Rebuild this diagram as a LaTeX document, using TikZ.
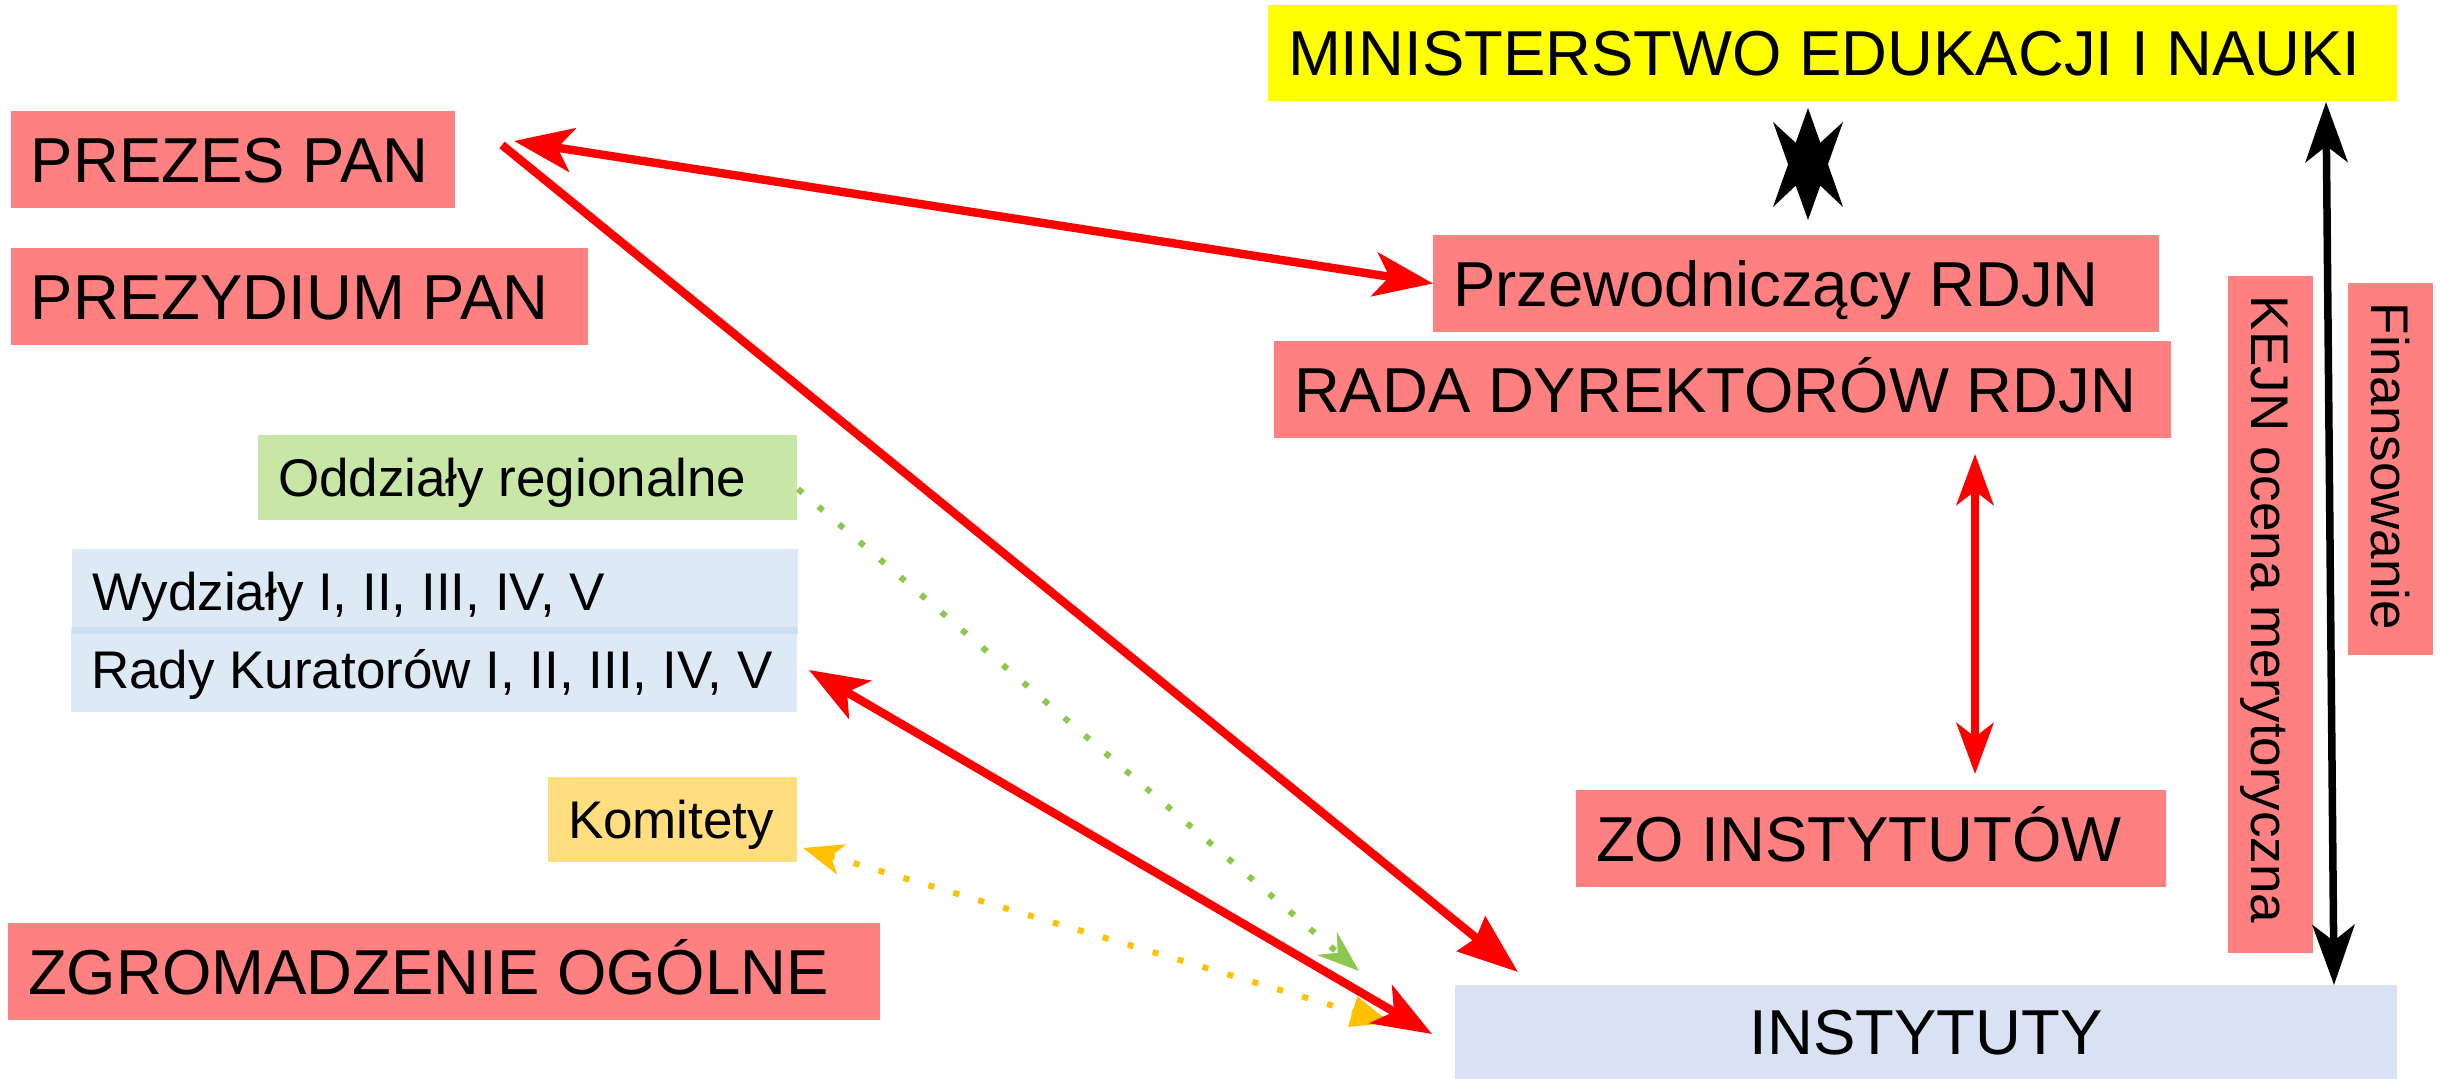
\documentclass[tikz,border=0pt]{standalone}
\usepackage{fontspec}
\setmainfont{Liberation Sans}
\usetikzlibrary{arrows.meta}
\definecolor{boxred}{HTML}{FF8080}
\definecolor{minyellow}{HTML}{FFFF00}
\definecolor{boxgreen}{HTML}{C8E6A5}
\definecolor{boxblue}{HTML}{BDD7EE}
\definecolor{boxorange}{HTML}{FFDE80}
\definecolor{boxinst}{HTML}{D9E2F3}
\definecolor{dotgreen}{HTML}{8CC84B}
\definecolor{dotyellow}{HTML}{FFC000}
\newcommand{\bt}[2]{\makebox[#1][l]{#2}}
\tikzset{
  base/.style={anchor=north west, inner xsep=10pt, inner ysep=0pt, outer sep=0pt, draw=none},
  big/.style={base, font=\fontsize{31.75pt}{38pt}\selectfont, text height=22.7pt, text depth=0pt, minimum height=48.5pt},
  small/.style={base, font=\fontsize{26.5pt}{32pt}\selectfont, text height=19pt, text depth=0pt, minimum height=42.5pt},
  redthick/.style={draw=red, line width=4.2pt},
  redthin/.style={draw=red, line width=3.75pt},
  blackline/.style={draw=black, line width=3.75pt},
  greendot/.style={draw=dotgreen, line width=3pt, dash pattern=on 3pt off 10.5pt},
  yellowdot/.style={draw=dotyellow, line width=3pt, dash pattern=on 3pt off 10pt},
  bighead/.tip={Stealth[length=29.5pt,width=22pt,inset=7.5pt]},
  fullhead/.tip={Stealth[length=30pt,width=22pt,inset=3pt]},
  blackhead/.tip={Stealth[length=30pt,width=21pt,inset=8pt]},
  thinhead/.tip={Stealth[length=25.5pt,width=18.5pt,inset=7pt]},
  greenhead/.tip={Stealth[length=21pt,width=15pt,inset=7pt]},
  yhead/.tip={Stealth[length=20pt,width=15.5pt,inset=5.5pt]},
  ytri/.tip={Triangle[length=20pt,width=15pt]},
}
\begin{document}
\begin{tikzpicture}[x=0.5pt,y=-0.5pt]
\useasboundingbox (0,0) rectangle (2440,1079);
\fill[white] (0,0) rectangle (2440,1079);

% boxes
\node[big, fill=minyellow, minimum height=48pt] (min) at (1268,5) {\bt{544.5pt}{MINISTERSTWO EDUKACJI I NAUKI}};
\node[big, fill=boxred] (prezes) at (11,111) {\bt{202pt}{PREZES PAN}};
\node[big, fill=boxred] (prezyd) at (11,248) {\bt{268.5pt}{PREZYDIUM PAN}};
\node[big, fill=boxred] (przew) at (1433,235) {\bt{343pt}{Przewodniczący RDJN}};
\node[big, fill=boxred] (rada) at (1274,341) {\bt{428.5pt}{RADA DYREKTORÓW RDJN}};
\node[small, fill=boxgreen] (odd) at (258,435) {\bt{249.5pt}{Oddziały regionalne}};
\node[small, fill=boxblue, fill opacity=0.5, text opacity=1] (wydz) at (72,549) {\bt{343pt}{Wydziały I, II, III, IV, V}};
\node[small, fill=boxblue, fill opacity=0.5, text opacity=1] (rady) at (71,627) {\bt{343pt}{Rady Kuratorów I, II, III, IV, V}};
\node[small, fill=boxorange] (kom) at (548,777) {\bt{104.5pt}{Komitety}};
\node[big, fill=boxred] (zgrom) at (8,923) {\bt{416pt}{ZGROMADZENIE OGÓLNE}};
\node[big, fill=boxred] (zo) at (1576,790) {\bt{275pt}{ZO INSTYTUTÓW}};
\node[big, fill=boxinst, minimum height=47pt] (inst) at (1455,985) {\makebox[451pt][c]{INSTYTUTY}};
\node[small, fill=boxred, rotate=-90, anchor=center] (kejn) at (2270.5,614.5) {\bt{318.5pt}{KEJN ocena merytoryczna}};
\node[small, fill=boxred, rotate=-90, anchor=center] (fin) at (2390.5,469) {\bt{166pt}{Finansowanie}};

% connector end points
\coordinate (pL) at (514,141);
\coordinate (pa) at (502,145);
\coordinate (pb) at (1518,972);
\coordinate (ra) at (809,670);
\coordinate (rb) at (1432,1034);
\coordinate (ga) at (798,489);
\coordinate (gb) at (1359,971);
\coordinate (ya) at (803,848);
\coordinate (yb) at (1391,1023);
\coordinate (ba) at (2326,102);
\coordinate (bb) at (2334,985);
\coordinate (va) at (1975,454);
\coordinate (vb) at (1975,774);

% connectors
\draw[greendot, -{greenhead}] (ga) -- (gb);
\draw[yellowdot, {yhead}-{ytri}] (ya) -- (yb);
\draw[redthick, {bighead}-{bighead}] (pL) -- (przew.west);
\draw[redthick, -{fullhead}] (pa) -- (pb);
\draw[redthick, {bighead}-{bighead}] (ra) -- (rb);
\draw[redthin, {thinhead}-{thinhead}] (va) -- (vb);
\draw[blackline, {blackhead}-{blackhead}] (ba) -- (bb);

% collapsed double arrow between ministry and RDJN
\fill[black] (1808,108) -- (1843,207) -- (1808,174) -- (1773,207) -- cycle;
\fill[black] (1808,220) -- (1843,122) -- (1808,154) -- (1773,122) -- cycle;
\end{tikzpicture}
\end{document}
